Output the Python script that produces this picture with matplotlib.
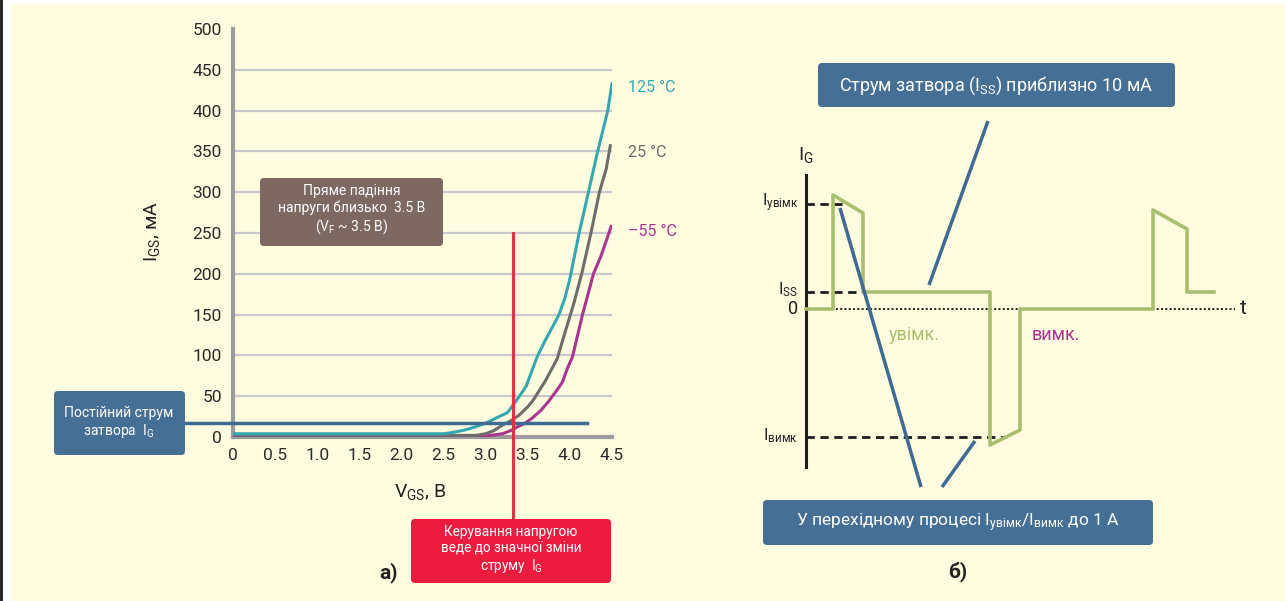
import matplotlib
matplotlib.use("Agg")
import matplotlib.pyplot as plt
from matplotlib.patches import FancyBboxPatch, Rectangle

FONT = ['Roboto', 'DejaVu Sans']
plt.rcParams['font.family'] = FONT
plt.rcParams['mathtext.fontset'] = 'custom'
plt.rcParams['mathtext.rm'] = 'Roboto'
plt.rcParams['mathtext.it'] = 'Roboto'
plt.rcParams['mathtext.bf'] = 'Roboto:bold'

# --- panel a): I_GS vs V_GS for three temperatures ---
v_125 = [0, 0.5, 1.0, 1.5, 2.0, 2.5, 2.6, 2.75, 2.88, 3.0, 3.12, 3.26, 3.36, 3.48, 3.61, 3.71,
         3.80, 3.87, 3.94, 4.00, 4.11, 4.22, 4.33, 4.45, 4.50]
i_125 = [4, 4, 4, 4, 4, 4, 5.4, 8.5, 12.5, 17, 23, 30, 44, 62, 98, 119,
         136, 150, 170, 194, 250, 300, 350, 400, 433]

v_25 = [0, 0.5, 1.0, 1.5, 2.0, 2.5, 2.88, 3.00, 3.10, 3.20, 3.30, 3.40, 3.50, 3.57, 3.71, 3.85,
        3.91, 3.98, 4.05, 4.14, 4.25, 4.35, 4.43, 4.48]
i_25 = [2, 2, 2, 2, 2, 2, 2, 4, 8, 14.6, 20, 27, 37, 46, 69, 96,
        117, 141, 165, 200, 250, 300, 328, 357]

v_m55 = [0, 0.5, 1.0, 1.5, 2.0, 2.5, 3.02, 3.20, 3.30, 3.38, 3.47, 3.55, 3.65, 3.75, 3.85,
         3.91, 3.97, 4.03, 4.15, 4.28, 4.37, 4.49]
i_m55 = [1.5, 1.5, 1.5, 1.5, 1.5, 1.5, 1.5, 4, 8, 12.5, 17, 23, 32, 44, 58,
         67, 84, 98, 150, 200, 222, 258]

x_ticks = [0, 0.5, 1.0, 1.5, 2.0, 2.5, 3.0, 3.5, 4.0, 4.5]
x_labels = ['0', '0.5', '1.0', '1.5', '2.0', '2.5', '3.0', '3.5', '4.0', '4.5']
y_ticks = [0, 50, 100, 150, 200, 250, 300, 350, 400, 450, 500]

ig_const = 17       # constant gate current line, mA
v_control = 3.33    # red marker line, V

# --- panel b): gate current waveform (arbitrary units) ---
t_wave = [0, 2.7, 2.7, 5.7, 5.7, 18.4, 18.4, 21.4, 21.4, 34.7, 34.7, 38.1, 38.1, 40.8]
i_wave = [0, 0, 11.4, 9.6, 1.7, 1.7, -13.6, -12.1, 0, 0, 9.9, 8.0, 1.7, 1.7]
i_on, i_ss, i_off = 10.5, 1.7, -12.8

W, H = 1285, 601
CREAM = '#fffcdf'
BLUE = '#466f96'
TEAL = '#35a7b0'
GRAY = '#6d6d70'
MAG = '#a8368f'
GREEN = '#a9bf70'

fig = plt.figure(figsize=(W / 100, H / 100), dpi=100, facecolor='white')
fig.patches.append(Rectangle((12 / W, 0), 1, 1 - 4 / H, transform=fig.transFigure,
                             facecolor=CREAM, edgecolor='none', zorder=-10))
fig.patches.append(Rectangle((0, 0), 3 / W, 1, transform=fig.transFigure,
                             facecolor='#2b2b2b', edgecolor='none', zorder=-10))

# left chart
ax = fig.add_axes([233 / W, 1 - 437 / H, (612 - 233) / W, (437 - 29) / H])
ax.set_facecolor('none')
ax.set_xlim(0, 4.5)
ax.set_ylim(0, 500)
ax.set_xticks(x_ticks)
ax.set_xticklabels(x_labels)
ax.set_yticks(y_ticks)
ax.tick_params(length=0, labelsize=12.5, colors='#2a2a2a')
ax.tick_params(axis='x', pad=8)
ax.tick_params(axis='y', pad=8)
for s in ['top', 'right']:
    ax.spines[s].set_visible(False)
for s in ['left', 'bottom']:
    ax.spines[s].set_color('#9c9c9e')
    ax.spines[s].set_linewidth(3)
ax.grid(axis='y', color='#c8c9d0', linewidth=1.6)
ax.yaxis.get_gridlines()[-1].set_visible(False)
ax.set_axisbelow(True)

ax.plot(v_m55, i_m55, color=MAG, lw=2.2, zorder=3)
ax.plot(v_25, i_25, color=GRAY, lw=2.2, zorder=3)
ax.plot(v_125, i_125, color=TEAL, lw=2.2, zorder=3)

ax.text(4.69, 428, '125 °C', color=TEAL, fontsize=11.5, va='center')
ax.text(4.69, 349, '25 °C', color=GRAY, fontsize=11.5, va='center')
ax.text(4.69, 252, '–55 °C', color=MAG, fontsize=11.5, va='center')

ax.plot([-0.58, 4.2], [ig_const, ig_const], color='#3f6a93', lw=2.5, clip_on=False, zorder=4)
ax.plot([v_control, v_control], [250, -100], color='#df3341', lw=2.2, clip_on=False, zorder=4)

# right schematic
rax = fig.add_axes([0, 0, 1, 1])
rax.set_facecolor('none')
rax.axis('off')
rax.set_xlim(-80.6, 47.9)
rax.set_ylim(-29.2, 30.9)
rax.plot([0, 0], [13.4, -15.8], color='#1e1e1e', lw=2.2)
rax.plot([0, 42.9], [0, 0], color='#1e1e1e', lw=1.4, ls=(0, (1, 1.2)))
rax.plot([0, 4.2], [i_on, i_on], color='#1e1e1e', lw=2, ls=(0, (3, 2)))
rax.plot([0, 5.7], [i_ss, i_ss], color='#1e1e1e', lw=2, ls=(0, (3, 2)))
rax.plot([0, 20.0], [i_off, i_off], color='#1e1e1e', lw=2, ls=(0, (3, 2)))
rax.plot(t_wave, i_wave, color=GREEN, lw=2.6)

# overlay in pixel coords for boxes and texts
ov = fig.add_axes([0, 0, 1, 1], zorder=5)
ov.set_facecolor('none')
ov.axis('off')
ov.set_xlim(0, W)
ov.set_ylim(H, 0)


def box(x0, y0, x1, y1, color):
    ov.add_patch(FancyBboxPatch((x0, y0), x1 - x0, y1 - y0,
                                boxstyle='round,pad=0,rounding_size=4',
                                facecolor=color, edgecolor='none', zorder=6))


box(54, 391, 185, 455, BLUE)
box(260, 178, 443, 246, '#7d6862')
box(411, 519, 611, 583, '#ec1c3f')
box(818, 63, 1175, 107, BLUE)
box(763, 500, 1153, 545, BLUE)

tk = dict(color='white', ha='center', va='center', zorder=7, linespacing=1.2)
ov.text(119, 423, 'Постійний струм\nзатвора  I$_\\mathrm{G}$', fontsize=10, **tk)
ov.text(352, 210, 'Пряме падіння\nнапруги близько  3.5 В\n(V$_\\mathrm{F}$ ~ 3.5 В)', fontsize=10, **tk)
ov.text(511, 550, 'Керування напругою\nведе до значної зміни\nструму  I$_\\mathrm{G}$', fontsize=9.8, **tk)
ov.text(996, 86, 'Струм затвора (I$_\\mathrm{SS}$) приблизно 10 мА', fontsize=13, **tk)
ov.text(958, 523, 'У перехідному процесі I$_\\mathrm{увімк}$/I$_\\mathrm{вимк}$ до 1 А', fontsize=12.5, **tk)

lk = dict(color='#3e6a94', lw=2.5, zorder=5, solid_capstyle='butt')
ov.plot([988, 929], [121, 285], **lk)
ov.plot([840, 921], [208, 487], **lk)
ov.plot([975, 942], [441, 487], **lk)

dark = '#222222'
ov.text(152, 232, 'I$_\\mathrm{GS}$, мА', rotation=90, fontsize=14, color=dark, ha='center', va='center')
ov.text(420, 492, 'V$_\\mathrm{GS}$, В', fontsize=14, color=dark, ha='center', va='center')
ov.text(388, 573, 'а)', fontsize=15, fontweight='bold', color=dark, ha='center', va='center')
ov.text(958, 572, 'б)', fontsize=15, fontweight='bold', color=dark, ha='center', va='center')

ov.text(806, 155, 'I$_\\mathrm{G}$', fontsize=14, color=dark, ha='center', va='center')
ov.text(798, 203, 'I$_\\mathrm{увімк}$', fontsize=12, color=dark, ha='right', va='center')
ov.text(798, 290, 'I$_\\mathrm{SS}$', fontsize=12, color=dark, ha='right', va='center')
ov.text(798, 309, '0', fontsize=13, color=dark, ha='right', va='center')
ov.text(798, 436, 'I$_\\mathrm{вимк}$', fontsize=12, color=dark, ha='right', va='center')
ov.text(1243, 308, 't', fontsize=15, color=dark, ha='center', va='center')
ov.text(914, 335, 'увімк.', fontsize=13, color=GREEN, ha='center', va='center')
ov.text(1056, 335, 'вимк.', fontsize=13, color=MAG, ha='center', va='center')

fig.savefig('out.png', dpi=100, facecolor=fig.get_facecolor())
